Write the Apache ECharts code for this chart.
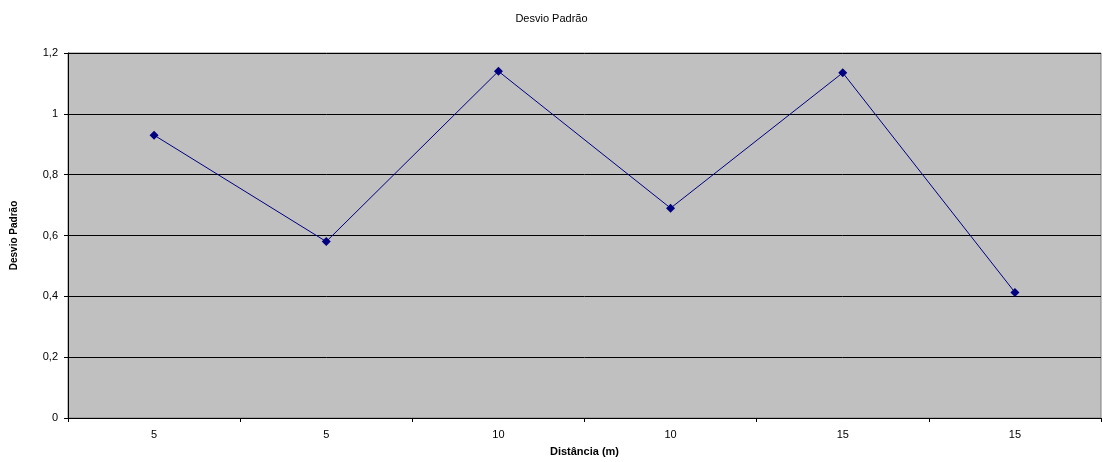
<!DOCTYPE html>
<html>
<head>
<meta charset="utf-8">
<script src="https://cdn.jsdelivr.net/npm/echarts@6/dist/echarts.min.js"></script>
<style>
  html, body { margin: 0; padding: 0; background: #ffffff; }
  #chart { width: 1103px; height: 462px; }
</style>
</head>
<body>
<div id="chart"></div>
<script>
// Distance categories (m) and the standard deviation at each
const categories = ['5', '5', '10', '10', '15', '15'];
const desvio = [0.93, 0.58, 1.14, 0.69, 1.135, 0.413];
const yTicks = { min: 0, max: 1.2, interval: 0.2 };

const font = '"Liberation Sans", Arial, sans-serif';
const chart = echarts.init(document.getElementById('chart'));

chart.setOption({
  animation: false,
  title: {
    text: 'Desvio Padrão',
    left: 'center',
    top: 8,
    textStyle: { fontFamily: font, fontSize: 11, fontWeight: 'normal', color: '#000' }
  },
  grid: {
    left: 68, right: 2, top: 53, bottom: 44,
    show: true,
    backgroundColor: '#c0c0c0',
    borderColor: '#808080',
    borderWidth: 1
  },
  xAxis: {
    type: 'category',
    data: categories,
    boundaryGap: true,
    name: 'Distância (m)',
    nameLocation: 'middle',
    nameGap: 28,
    nameTextStyle: { fontFamily: font, fontSize: 11, fontWeight: 'bold', color: '#000' },
    axisLine: { lineStyle: { color: '#000', width: 1 } },
    axisTick: { show: true, length: 4, inside: false, lineStyle: { color: '#000' } },
    axisLabel: { interval: 0, margin: 11, fontFamily: font, fontSize: 11, color: '#000' },
    splitLine: { show: false }
  },
  yAxis: {
    type: 'value',
    min: yTicks.min,
    max: yTicks.max,
    interval: yTicks.interval,
    name: 'Desvio Padrão',
    nameLocation: 'middle',
    nameRotate: 90,
    nameGap: 49,
    nameTextStyle: { fontFamily: font, fontSize: 10, fontWeight: 'bold', color: '#000', letterSpacing: 0.5 },
    axisLine: { show: true, lineStyle: { color: '#000', width: 1 } },
    axisTick: { show: true, length: 4, inside: false, lineStyle: { color: '#000' } },
    axisLabel: {
      margin: 10,
      fontFamily: font, fontSize: 11, color: '#000',
      formatter: v => (+v.toFixed(1)).toString().replace('.', ',')
    },
    splitLine: { show: true, lineStyle: { color: '#000', width: 1 } }
  },
  series: [{
    type: 'line',
    data: desvio,
    symbol: 'diamond',
    symbolSize: 9,
    itemStyle: { color: '#000080' },
    lineStyle: { color: '#000080', width: 1 }
  }]
});
</script>
</body>
</html>
